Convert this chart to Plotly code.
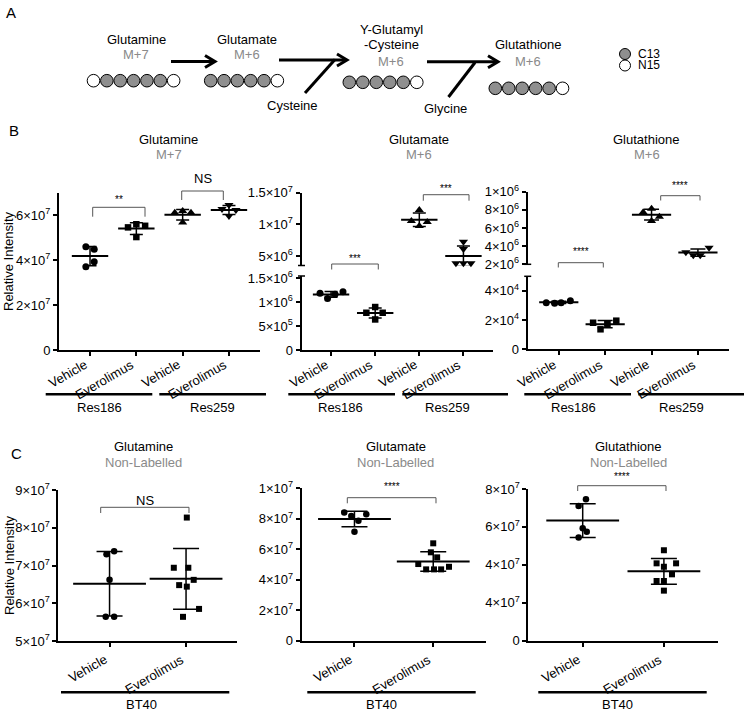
import numpy as np
import plotly.graph_objects as go

W, H = 746, 712
FONT = "Liberation Sans, Arial, Helvetica, sans-serif"
GREY_TXT = "#8a8a8a"
ATOM_FILL = {"C": "#8f8f8f", "N": "white"}

# ---------------- Panel A: schematic labels ----------------
a_metabolites = ["Glutamine", "Glutamate", "Y-Glutamyl<br>-Cysteine", "Glutathione"]
a_isotopologues = ["M+7", "M+6", "M+6", "M+6"]
a_atom_patterns = [
    ["N", "C", "C", "C", "C", "C", "N"],
    ["C", "C", "C", "C", "C", "N"],
    ["C", "C", "C", "C", "C", "N"],
    ["C", "C", "C", "C", "C", "N"],
]
a_cosubstrates = ["Cysteine", "Glycine"]
a_legend_labels = ["C13", "N15"]
a_legend_atoms = ["C", "N"]

# ---------------- Panel B data ----------------
b_tick_labels = ["Vehicle", "Everolimus", "Vehicle", "Everolimus"]
b_cell_lines = ["Res186", "Res259"]
b_titles = ["Glutamine", "Glutamate", "Glutathione"]
b_subtitles = ["M+7", "M+6", "M+6"]
b_symbols = ["circle", "square", "triangle-up", "triangle-down"]
b_sig = [["**", "NS"], ["***", "***"], ["****", "****"]]

# groups: Res186 Vehicle, Res186 Everolimus, Res259 Vehicle, Res259 Everolimus
gln_m7 = [[4.59e7, 4.48e7, 3.92e7, 3.70e7],
          [5.59e7, 5.52e7, 5.45e7, 5.02e7],
          [6.18e7, 6.10e7, 6.10e7, 5.67e7],
          [6.44e7, 6.27e7, 6.22e7, 5.96e7]]
gln_m7_jitter = [[-0.09, 0.09, 0.09, -0.09],
                 [0.0, 0.19, -0.18, 0.0],
                 [0.0, -0.17, 0.18, 0.0],
                 [0.0, -0.15, 0.15, 0.0]]

glu_m6 = [[1.19e6, 1.08e6, 1.17e6, 1.22e6],
          [0.90e6, 0.78e6, 0.78e6, 0.64e6],
          [1.227e7, 1.053e7, 1.037e7, 0.974e7],
          [7.26e6, 6.10e6, 3.85e6, 3.85e6, 3.85e6]]
glu_m6_jitter = [[-0.25, -0.08, 0.09, 0.27],
                 [0.0, -0.2, 0.17, 0.0],
                 [0.0, -0.18, 0.18, 0.0],
                 [0.0, 0.0, -0.17, 0.0, 0.17]]

gsh_m6 = [[3.19e4, 3.15e4, 3.19e4, 3.33e4],
          [1.82e4, 1.73e4, 1.96e4, 1.37e4],
          [8.13e6, 7.73e6, 7.25e6, 6.77e6],
          [3.83e6, 3.33e6, 3.00e6, 3.00e6]]
gsh_m6_jitter = [[-0.27, -0.09, 0.05, 0.25],
                 [-0.26, 0.05, 0.24, -0.1],
                 [0.0, -0.18, 0.17, 0.0],
                 [0.24, -0.26, -0.1, 0.05]]

# ---------------- Panel C data ----------------
c_tick_labels = ["Vehicle", "Everolimus"]
c_cell_line = "BT40"
c_titles = ["Glutamine", "Glutamate", "Glutathione"]
c_subtitle = "Non-Labelled"
c_symbols = ["circle", "square"]
c_sig = ["NS", "****", "****"]

gln_nl = [[7.30e7, 7.38e7, 6.62e7, 5.64e7, 5.64e7],
          [8.27e7, 6.94e7, 6.94e7, 6.62e7, 6.48e7, 6.44e7, 5.85e7, 5.64e7]]
gln_nl_jitter = [[-0.04, 0.06, 0.0, -0.05, 0.06],
                 [0.01, -0.16, 0.03, 0.1, -0.09, 0.01, 0.17, -0.04]]
glu_nl = [[8.42e7, 8.29e7, 8.18e7, 7.87e7, 7.15e7],
          [6.39e7, 5.80e7, 5.47e7, 5.03e7, 4.85e7, 4.68e7, 4.68e7, 4.68e7]]
glu_nl_jitter = [[-0.13, 0.15, -0.04, 0.05, 0.0],
                 [0.0, -0.03, 0.05, -0.19, 0.2, -0.09, 0.01, 0.1]]
gsh_nl = [[7.46e7, 7.11e7, 5.93e7, 5.75e7, 5.44e7],
          [4.77e7, 4.08e7, 4.08e7, 3.90e7, 3.50e7, 3.15e7, 3.15e7, 2.64e7]]
gsh_nl_jitter = [[0.04, -0.05, 0.0, 0.05, -0.05],
                 [0.0, -0.09, 0.15, 0.0, 0.1, -0.09, 0.0, 0.0]]

# y tick labels
def sci(m, e):
    return f"{m}×10<sup>{e}</sup>"

b1_yticks = [0, 2e7, 4e7, 6e7]
b1_ytext = ["0", sci(2, 7), sci(4, 7), sci(6, 7)]
b2_lo_yticks = [0, 5e5, 1e6, 1.5e6]
b2_lo_ytext = ["0", sci(5, 5), sci(1, 6), sci(1.5, 6)]
b2_hi_yticks = [5e6, 1e7, 1.5e7]
b2_hi_ytext = [sci(5, 6), sci(1, 7), sci(1.5, 7)]
b3_lo_yticks = [0, 2e4, 4e4]
b3_lo_ytext = ["0", sci(2, 4), sci(4, 4)]
b3_hi_yticks = [2e6, 4e6, 6e6, 8e6, 1e7]
b3_hi_ytext = [sci(2, 6), sci(4, 6), sci(6, 6), sci(8, 6), sci(1, 6)]
c1_yticks = [5e7, 6e7, 7e7, 8e7, 9e7]
c1_ytext = [sci(5, 7), sci(6, 7), sci(7, 7), sci(8, 7), sci(9, 7)]
c2_yticks = [0, 2e7, 4e7, 6e7, 8e7, 1e8]
c2_ytext = ["0", sci(2, 7), sci(4, 7), sci(6, 7), sci(8, 7), sci(1, 7)]
c3_yticks = [0, 2e7, 4e7, 6e7, 8e7]
c3_ytext = ["0", sci(4, 7), sci(4, 7), sci(6, 7), sci(8, 7)]

# ---------------- helpers (pixel -> paper) ----------------
def PX(x):
    return x / W

def PY(y):
    return 1 - y / H

def xd(a, b):
    return [PX(a), PX(b)]

def yd(top, bottom):
    return [PY(bottom), PY(top)]

annotations = []
shapes = []

def txt(x, y, s, size=13, color="black", angle=0, xanchor="center"):
    annotations.append(dict(x=PX(x), y=PY(y), xref="paper", yref="paper", text=s,
                            showarrow=False, textangle=angle, xanchor=xanchor, yanchor="middle",
                            font=dict(size=size, color=color, family=FONT)))

def seg(x0, y0, x1, y1, w=1.0, color="black"):
    shapes.append(dict(type="line", xref="paper", yref="paper", x0=PX(x0), y0=PY(y0),
                       x1=PX(x1), y1=PY(y1), line=dict(width=w, color=color)))

def path(pts, w=1.0, color="black"):
    d = "M " + " L ".join(f"{PX(a):.5f},{PY(b):.5f}" for a, b in pts)
    shapes.append(dict(type="path", xref="paper", yref="paper", path=d,
                       line=dict(width=w, color=color)))

def bracket(x0, x1, top, bottom):
    path([(x0, bottom), (x0, top), (x1, top), (x1, bottom)], w=1.0, color="#555555")

def circle(cx, cy, r, fill):
    shapes.append(dict(type="circle", xref="paper", yref="paper",
                       x0=PX(cx - r), x1=PX(cx + r), y0=PY(cy + r), y1=PY(cy - r),
                       fillcolor=fill, line=dict(color="black", width=1)))

def arrow(x0, x1, y, w=3):
    seg(x0, y, x1 - 1, y, w=w)
    path([(x1 - 10, y - 6), (x1, y), (x1 - 10, y + 6)], w=w)

def xlabels(xref, labels, top_px):
    # rotated category labels, anchored by their top-right corner at each tick
    for i, lab in enumerate(labels):
        annotations.append(dict(x=i, xref=xref, y=PY(top_px), yref="paper", text=lab,
                                showarrow=False, textangle=-30, xanchor="right",
                                yanchor="top", xshift=3,
                                font=dict(size=13, color="black", family=FONT)))

fig = go.Figure()

def add_group(xa, ya, pos, vals, jit, symbol, msize, mean_w, cap_w):
    vals = np.asarray(vals, dtype=float)
    xs = pos + np.asarray(jit, dtype=float)
    fig.add_trace(go.Scatter(x=xs, y=vals, mode="markers", xaxis=xa, yaxis=ya,
                             marker=dict(symbol=symbol, size=msize, color="black"),
                             cliponaxis=False, hoverinfo="skip"))
    m = vals.mean()
    sd = vals.std(ddof=1)
    fig.add_trace(go.Scatter(x=[pos], y=[m], mode="markers", xaxis=xa, yaxis=ya,
                             marker=dict(symbol="line-ew", size=mean_w,
                                         line=dict(width=2, color="black")),
                             error_y=dict(type="data", array=[sd], width=cap_w,
                                          thickness=1.5, color="black"),
                             cliponaxis=False, hoverinfo="skip"))

# ---------------- Panel B traces ----------------
b_sizes = {"circle": 7, "square": 6.5, "triangle-up": 8, "triangle-down": 8}
for g in range(4):
    add_group("x", "y", g, gln_m7[g], gln_m7_jitter[g], b_symbols[g], b_sizes[b_symbols[g]], 26, 6.5)
for g in range(4):
    ya = "y2" if g < 2 else "y3"
    add_group("x2", ya, g, glu_m6[g], glu_m6_jitter[g], b_symbols[g], b_sizes[b_symbols[g]], 26, 6.5)
for g in range(4):
    ya = "y4" if g < 2 else "y5"
    add_group("x3", ya, g, gsh_m6[g], gsh_m6_jitter[g], b_symbols[g], b_sizes[b_symbols[g]], 28, 7.5)

# ---------------- Panel C traces ----------------
for i, (data, jit) in enumerate([(gln_nl, gln_nl_jitter), (glu_nl, glu_nl_jitter), (gsh_nl, gsh_nl_jitter)]):
    xa = f"x{4 + i}"
    ya = f"y{6 + i}"
    for g in range(2):
        add_group(xa, ya, g, data[g], jit[g], c_symbols[g], 6.5 if g == 0 else 6, 52, 13)

# ---------------- axes ----------------
base = dict(showline=True, linewidth=2, linecolor="black", ticks="outside", ticklen=4,
            tickwidth=1.5, tickcolor="black", showgrid=False, zeroline=False,
            automargin=False,
            tickfont=dict(size=13, family=FONT, color="black"), fixedrange=True)

def xaxis(dom, anchor, labels):
    n = len(labels)
    return dict(base, domain=dom, anchor=anchor, range=[-0.67, n - 1 + 0.67],
                tickvals=list(range(n)), showticklabels=False)

def yaxis(dom, anchor, rng, tv, tt):
    return dict(base, domain=dom, anchor=anchor, range=rng, tickvals=tv, ticktext=tt)

fig.update_layout(
    template="none",
    xaxis=xaxis(xd(59, 260), "y", b_tick_labels),
    yaxis=yaxis(yd(192.5, 350), "x", [0, 7e7], b1_yticks, b1_ytext),
    xaxis2=xaxis(xd(301.5, 493), "y2", b_tick_labels),
    yaxis2=yaxis(yd(276, 350), "x2", [0, 1.55e6], b2_lo_yticks, b2_lo_ytext),
    yaxis3=yaxis(yd(192.7, 265.5), "x2", [3.5e6, 1.5e7], b2_hi_yticks, b2_hi_ytext),
    xaxis3=xaxis(xd(527.7, 729), "y4", b_tick_labels),
    yaxis4=yaxis(yd(276.3, 349.3), "x3", [0, 5e4], b3_lo_yticks, b3_lo_ytext),
    yaxis5=yaxis(yd(191.7, 264.3), "x3", [2e6, 1e7], b3_hi_yticks, b3_hi_ytext),
    xaxis4=xaxis(xd(58.3, 237.3), "y6", c_tick_labels),
    yaxis6=yaxis(yd(490, 641), "x4", [5e7, 9e7], c1_yticks, c1_ytext),
    xaxis5=xaxis(xd(301.7, 486), "y7", c_tick_labels),
    yaxis7=yaxis(yd(488.3, 640.7), "x5", [0, 1e8], c2_yticks, c2_ytext),
    xaxis6=xaxis(xd(528.3, 718.3), "y8", c_tick_labels),
    yaxis8=yaxis(yd(489, 640.7), "x6", [0, 8e7], c3_yticks, c3_ytext),
)

for xr in ["x", "x2", "x3"]:
    xlabels(xr, b_tick_labels, 354)
for xr in ["x4", "x5", "x6"]:
    xlabels(xr, c_tick_labels, 649)

# axis-break caps
for xa_px, ytop_px, ybot_px in [(301.5, 265.5, 276), (527.7, 264.3, 276.3)]:
    seg(xa_px - 3.5, ytop_px, xa_px + 3.5, ytop_px, w=1.5)
    seg(xa_px - 3.5, ybot_px, xa_px + 3.5, ybot_px, w=1.5)

# ---------------- Panel A drawing ----------------
txt(11, 12, "A", size=15)
a_label_pos = [(136, 39), (247, 39), (391, 37), (528, 45)]
a_iso_pos = [(136, 54.5), (247, 54.5), (391, 61), (528, 61)]
for (x, y), name in zip(a_label_pos, a_metabolites):
    if "<br>" in name:
        l1, l2 = name.split("<br>")
        txt(x, y - 8, l1)
        txt(x, y + 8, l2)
    else:
        txt(x, y, name)
for (x, y), iso in zip(a_iso_pos, a_isotopologues):
    txt(x, y, iso, color=GREY_TXT)

a_rows = [(93.5, 80.7, 13.36), (210.7, 80.7, 13.33), (349.3, 82.3, 13.5), (495.3, 88.3, 13.45)]
for (x0, cy, step), pattern in zip(a_rows, a_atom_patterns):
    for i, atom in enumerate(pattern):
        circle(x0 + i * step, cy, 6.3, ATOM_FILL[atom])

arrow(171, 215, 61.5)
arrow(279, 347, 60)
seg(305, 93, 335, 59.5, w=3)
arrow(427, 498, 61.7)
seg(448.5, 97, 475, 62.5, w=3)
txt(292, 106, a_cosubstrates[0])
txt(446, 108.5, a_cosubstrates[1])

for (cy, lab, atom) in zip([54, 65.5], a_legend_labels, a_legend_atoms):
    circle(625, cy, 5.5, ATOM_FILL[atom])
    txt(636, cy, lab, size=12, xanchor="left")

# ---------------- Panel B decorations ----------------
txt(14, 131, "B", size=15)
for cx, t, s in zip([168.5, 419, 646.5], b_titles, b_subtitles):
    txt(cx, 139, t)
    txt(cx, 154.5, s, color=GREY_TXT)
txt(9, 262, "Relative Intensity", angle=-90)

# significance brackets: (x0, x1, top, bottom, label_y)
b_brackets = [
    [(92.7, 145, 207.3, 216.7, 199.5), (181.7, 223.3, 191, 200, 178)],
    [(331.7, 378.3, 264, 269.5, 258.5), (423.3, 469, 194.7, 200.7, 188.5)],
    [(558.3, 603.3, 262.7, 267.5, 251.5), (660.7, 700, 195.7, 200.5, 185)],
]
for pan, sigs in zip(b_brackets, b_sig):
    for (x0, x1, top, bot, ly), lab in zip(pan, sigs):
        bracket(x0, x1, top, bot)
        if lab == "NS":
            txt((x0 + x1) / 2, ly, lab, size=13)
        else:
            txt((x0 + x1) / 2, ly, lab, size=10, color="black")

# cell line group lines
b_group_lines = [
    [(45.7, 152.3, 99), (159.3, 266, 212)],
    [(288.3, 395, 340), (402.3, 508, 448)],
    [(524.3, 631, 573), (638.3, 744, 681.7)],
]
for pan in b_group_lines:
    for (x0, x1, tx), lab in zip(pan, b_cell_lines):
        seg(x0, 394.3, x1, 394.3, w=2.5)
        txt(tx, 408, lab)

# ---------------- Panel C decorations ----------------
txt(16, 453, "C", size=15)
for cx, t in zip([143, 395.5, 628.8], c_titles):
    txt(cx, 446.5, t)
    txt(cx, 462.5, c_subtitle, color=GREY_TXT)
txt(9, 566, "Relative Intensity", angle=-90)

c_brackets = [(100.7, 189, 507.3, 513, 500.5), (347.3, 436, 497.7, 503.3, 486.5), (577.7, 666, 485.7, 491, 476.5)]
for (x0, x1, top, bot, ly), lab in zip(c_brackets, c_sig):
    bracket(x0, x1, top, bot)
    if lab == "NS":
        txt((x0 + x1) / 2, ly, lab, size=13)
    else:
        txt((x0 + x1) / 2, ly, lab, size=10, color="black")

for x0, x1, tx in [(61, 229.3, 141), (307.3, 475.7, 381.7), (538.3, 706.7, 617.7)]:
    seg(x0, 692.3, x1, 692.3, w=2.5)
    txt(tx, 704.5, c_cell_line)

fig.update_layout(
    width=W, height=H, autosize=False,
    margin=dict(l=0, r=0, t=0, b=0, autoexpand=False),
    paper_bgcolor="white", plot_bgcolor="white",
    showlegend=False,
    font=dict(family=FONT, size=13, color="black"),
    annotations=annotations, shapes=shapes,
)

fig.write_html("out.html", config={"displayModeBar": False},
               post_script="document.body.style.margin='0px'; document.body.style.overflow='hidden';")
